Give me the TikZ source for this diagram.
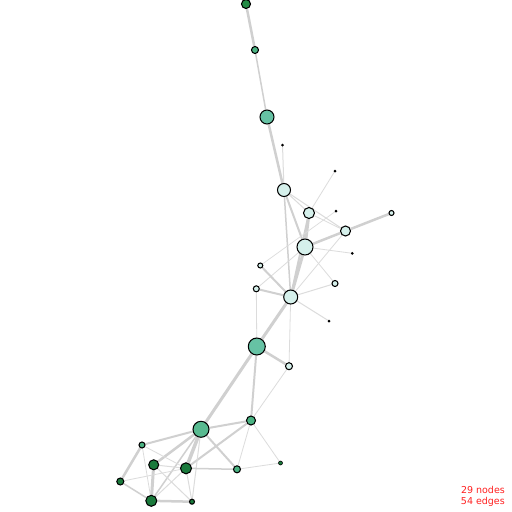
\documentclass[tikz,border=0pt]{standalone}
\usepackage{fontspec}
\setmainfont{DejaVu Sans}
\usetikzlibrary{backgrounds}
\definecolor{cdark}{HTML}{1A7A3C}
\definecolor{cdarkb}{HTML}{238B45}
\definecolor{cmed}{HTML}{4AB282}
\definecolor{clight}{HTML}{66C2A4}
\definecolor{clightb}{HTML}{58BA90}
\definecolor{ccyan}{HTML}{D5F0EB}
\definecolor{cedge}{HTML}{D0D0D0}
\definecolor{cedgelt}{HTML}{DCDCDC}
\definecolor{cred}{HTML}{FF2020}
\tikzset{
  vtx/.style={circle, draw=black, line width=1.05pt, inner sep=0pt, minimum size=#1},
  dot/.style={circle, fill=black, inner sep=0pt, minimum size=#1},
  edg/.style={draw=cedge, line width=#1},
  edgl/.style={draw=cedgelt, line width=#1},
  lbl/.style={text=cred, font=\fontsize{9.5}{11}\selectfont, align=right, inner sep=0pt}
}
\begin{document}
\begin{tikzpicture}[x=1pt,y=-1pt]
\useasboundingbox (0,0) rectangle (512,512);
% nodes
\node[vtx=9pt, fill=cdarkb] (n1) at (246,4) {};
\node[vtx=7pt, fill=cmed] (n2) at (255,50) {};
\node[vtx=14pt, fill=clight] (n3) at (267,117) {};
\node[dot=3pt] (n4) at (282.5,145) {};
\node[vtx=13pt, fill=ccyan] (n5) at (284,190) {};
\node[dot=3pt] (n6) at (335,171) {};
\node[vtx=11pt, fill=ccyan] (n7) at (309,213) {};
\node[dot=3pt] (n8) at (336,211) {};
\node[vtx=5pt, fill=ccyan] (n9) at (391.5,213) {};
\node[vtx=10pt, fill=ccyan] (n10) at (345.5,231) {};
\node[vtx=16pt, fill=ccyan] (n11) at (305,247) {};
\node[dot=3pt] (n12) at (352.3,253.3) {};
\node[vtx=5pt, fill=ccyan] (n13) at (260.3,265.5) {};
\node[vtx=6pt, fill=ccyan] (n14) at (256.3,288.8) {};
\node[vtx=6pt, fill=ccyan] (n15) at (335,283.5) {};
\node[vtx=14pt, fill=ccyan] (n16) at (290.7,297) {};
\node[dot=3pt] (n17) at (329,321) {};
\node[vtx=17pt, fill=clight] (n18) at (256.8,346.5) {};
\node[vtx=7pt, fill=ccyan] (n19) at (289,366.2) {};
\node[vtx=9pt, fill=cmed] (n20) at (251,420.5) {};
\node[vtx=16pt, fill=clightb] (n21) at (201,429.3) {};
\node[vtx=6pt, fill=cmed] (n22) at (142,445) {};
\node[vtx=10pt, fill=cdark] (n23) at (153.7,464.8) {};
\node[vtx=11pt, fill=cdark] (n24) at (186,468.3) {};
\node[vtx=7pt, fill=cmed] (n25) at (237,469.3) {};
\node[vtx=4pt, fill=cdark, line width=0.6pt] (n26) at (280.5,463) {};
\node[vtx=7pt, fill=cdark] (n27) at (120.3,481.5) {};
\node[vtx=11pt, fill=cdark] (n28) at (151.3,500.8) {};
\node[vtx=5pt, fill=cdark] (n29) at (192,501.7) {};
% edges
\begin{scope}[on background layer]
\fill[white] (0,0) rectangle (512,512);
\draw[edg=2.5pt] (n1) -- (n2);
\draw[edg=1.5pt] (n2) -- (n3);
\draw[edg=2.5pt] (n3) -- (n5);
\draw[edgl=1pt] (n4) -- (n5);
\draw[edgl=1pt] (n5) -- (n7);
\draw[edgl=1pt] (n5) -- (n10);
\draw[edg=2pt] (n5) -- (n11);
\draw[edg=1.5pt] (n5) -- (n16);
\draw[edgl=0.8pt] (n6) -- (n7);
\draw[edg=3pt] (n7) -- (n11);
\draw[edg=2pt] (n7) -- (n16);
\draw[edgl=0.8pt] (n7) -- (n10);
\draw[edgl=0.7pt] (n8) -- (n13);
\draw[edg=2.5pt] (n9) -- (n10);
\draw[edg=2.5pt] (n10) -- (n11);
\draw[edgl=0.8pt] (n10) -- (n16);
\draw[edgl=0.8pt] (n11) -- (n12);
\draw[edgl=0.8pt] (n11) -- (n15);
\draw[edg=3pt] (n11) -- (n16);
\draw[edgl=0.8pt] (n11) -- (n14);
\draw[edg=2pt] (n13) -- (n16);
\draw[edg=2pt] (n14) -- (n16);
\draw[edgl=0.8pt] (n14) -- (n18);
\draw[edgl=1pt] (n15) -- (n16);
\draw[edgl=1pt] (n16) -- (n17);
\draw[edg=3pt] (n16) -- (n18);
\draw[edgl=0.8pt] (n16) -- (n19);
\draw[edg=2.5pt] (n18) -- (n19);
\draw[edg=2pt] (n18) -- (n20);
\draw[edg=3pt] (n18) -- (n21);
\draw[edgl=0.8pt] (n19) -- (n20);
\draw[edg=2pt] (n20) -- (n21);
\draw[edg=2pt] (n20) -- (n24);
\draw[edgl=0.8pt] (n20) -- (n25);
\draw[edgl=0.8pt] (n20) -- (n26);
\draw[edg=2pt] (n21) -- (n22);
\draw[edg=2.5pt] (n21) -- (n23);
\draw[edg=3.5pt] (n21) -- (n24);
\draw[edg=2pt] (n21) -- (n25);
\draw[edg=1.5pt] (n21) -- (n28);
\draw[edgl=1pt] (n21) -- (n29);
\draw[edg=2.5pt] (n22) -- (n27);
\draw[edgl=0.8pt] (n22) -- (n24);
\draw[edgl=0.8pt] (n22) -- (n28);
\draw[edgl=1pt] (n23) -- (n24);
\draw[edg=3pt] (n23) -- (n28);
\draw[edgl=1pt] (n23) -- (n29);
\draw[edg=1.5pt] (n24) -- (n25);
\draw[edgl=0.8pt] (n25) -- (n26);
\draw[edgl=0.8pt] (n24) -- (n27);
\draw[edg=1.5pt] (n27) -- (n28);
\draw[edg=2.5pt] (n28) -- (n29);
\draw[edgl=1pt] (n24) -- (n28);
\draw[edgl=1pt] (n24) -- (n29);
\end{scope}
\node[lbl, anchor=north east] (info) at (505,486) {29 nodes\\54 edges};
\end{tikzpicture}
\end{document}
